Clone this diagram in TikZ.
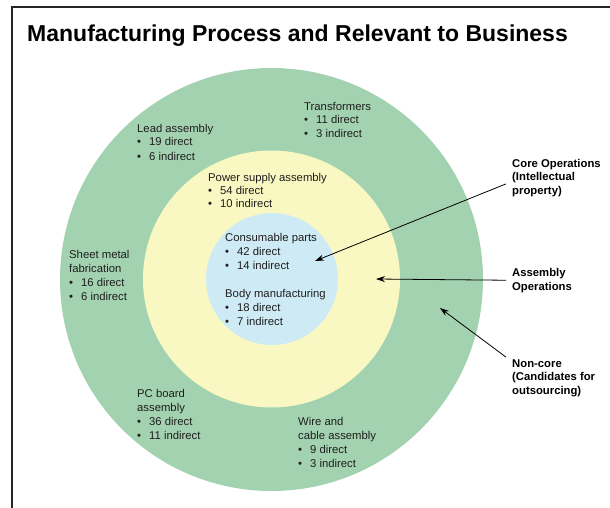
\documentclass[tikz,border=0pt]{standalone}
\usepackage{fontspec}
\setmainfont{Liberation Sans}
\usepackage{tikz}
\usetikzlibrary{arrows.meta}

\definecolor{outergreen}{RGB}{163,210,176}
\definecolor{midyellow}{RGB}{250,248,194}
\definecolor{coreblue}{RGB}{206,235,245}
\definecolor{txtgray}{RGB}{30,30,30}

\newcommand{\itm}[1]{\makebox[12pt][l]{\textbullet}#1}

\tikzset{
  lbl/.style={anchor=base west, inner sep=0pt, align=left, text=txtgray,
    font=\fontsize{11.3}{14}\selectfont},
  keylbl/.style={lbl, text=black, font=\fontsize{11.3}{13.7}\selectfont\bfseries},
  pointer/.style={-{Stealth[length=9pt,width=6pt]}, line width=0.8pt}
}

\begin{document}
\begin{tikzpicture}[x=1pt,y=-1pt]
                \useasboundingbox (0,0) rectangle (610,508);
                \fill[white] (0,0) rectangle (610,508);
                \draw[line width=1.3pt, black!85] (12,508) -- (12,7) -- (610,7);
                \node[anchor=base west, inner sep=0pt, font=\fontsize{23}{27}\selectfont\bfseries] (title) at (27,42)
                    {Manufacturing Process and Relevant to Business};
                % rings
                \fill[outergreen] (271.5,279.5) circle (211.5);
                \fill[midyellow]  (271.5,279)   circle (128.5);
                \fill[coreblue]   (272,279)     circle (66);
                % outer ring (nodes placed at the baseline of their last line)
                \node[lbl] (trans) at (304,138) {Transformers\\ \itm{11 direct}\\ \itm{3 indirect}};
                \node[lbl] (lead)  at (137,160) {Lead assembly\\ \itm{19 direct}\\ \itm{6 indirect}};
                \node[lbl] (sheet) at (69,300)  {Sheet metal\\ fabrication\\ \itm{16 direct}\\ \itm{6 indirect}};
                \node[lbl] (pcb)   at (137,439) {PC board\\ assembly\\ \itm{36 direct}\\ \itm{11 indirect}};
                \node[lbl] (wire)  at (298,467) {Wire and\\ cable assembly\\ \itm{9 direct}\\ \itm{3 indirect}};
                % middle ring
                \node[lbl, font=\fontsize{11.3}{13}\selectfont] (power) at (208,207) {Power supply assembly\\ \itm{54 direct}\\ \itm{10 indirect}};
                % core
                \node[lbl] (consum) at (225,269) {Consumable parts\\ \itm{42 direct}\\ \itm{14 indirect}};
                \node[lbl] (body)   at (225,325) {Body manufacturing\\ \itm{18 direct}\\ \itm{7 indirect}};
                % keys
                \node[keylbl] (core)    at (512,194.5) {Core Operations\\ (Intellectual\\ property)};
                \node[keylbl] (asm)     at (512,290)   {Assembly\\ Operations};
                \node[keylbl] (noncore) at (512,394.5) {Non-core\\ (Candidates for\\ outsourcing)};
                \coordinate (coretip) at (315,261);
                \coordinate (asmtip)  at (376,279);
                \coordinate (ringtip) at (440,308);
                \draw[pointer] ([xshift=-6pt,yshift=-6pt]core.west) -- (coretip);
                \draw[pointer] ([xshift=-6pt]asm.west) -- (asmtip);
                \draw[pointer] ([xshift=-6pt,yshift=2pt]noncore.north west) -- (ringtip);
            \end{tikzpicture}
\end{document}
